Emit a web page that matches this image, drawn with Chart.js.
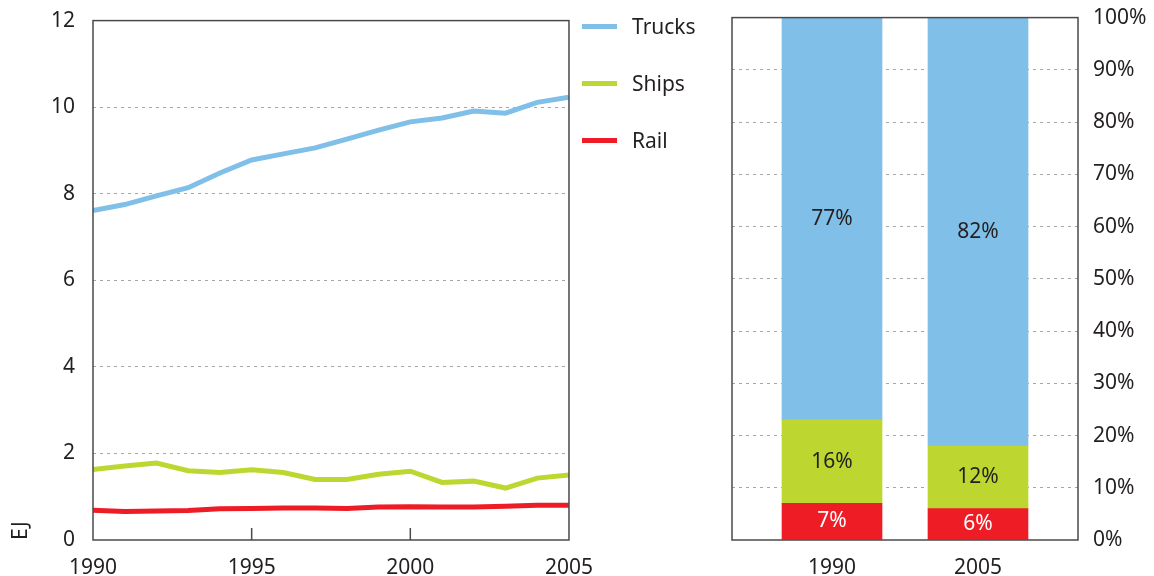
<!DOCTYPE html>
<html lang="en">
<head>
    <meta charset="UTF-8">
    <title>Freight transport energy use</title>
    <script src="https://cdn.jsdelivr.net/npm/chart.js@4.4.1/dist/chart.umd.min.js"></script>
    <style>
        body { margin: 0; background: #fff; font-family: "Noto Sans", sans-serif; overflow: hidden; }
        #wrap { position: relative; width: 1154px; height: 576px; overflow: hidden; }
        #lines { position: absolute; left: 0; top: -10px; }
        #shares { position: absolute; left: 700px; top: -10px; }
        #legend { position: absolute; left: 582px; top: 0; color: #231f20; font-size: 21px; }
        .item { position: absolute; left: 0; height: 30px; display: flex; align-items: center; white-space: nowrap; }
        .swatch { width: 35px; height: 5px; margin-right: 15px; }
    </style>
</head>
<body>
<div id="wrap">
    <canvas id="lines" width="600" height="586"></canvas>
    <div id="legend"></div>
    <canvas id="shares" width="454" height="586"></canvas>
</div>
<script>
    // energy use by mode, EJ
    const years = [1990, 1991, 1992, 1993, 1994, 1995, 1996, 1997, 1998, 1999, 2000, 2001, 2002, 2003, 2004, 2005];
    const trucks = [7.61, 7.75, 7.95, 8.14, 8.48, 8.78, 8.92, 9.06, 9.26, 9.47, 9.66, 9.75, 9.91, 9.86, 10.11, 10.23];
    const ships = [1.63, 1.71, 1.78, 1.60, 1.56, 1.62, 1.56, 1.40, 1.40, 1.52, 1.59, 1.33, 1.36, 1.20, 1.43, 1.50];
    const rail = [0.69, 0.66, 0.67, 0.68, 0.72, 0.73, 0.74, 0.74, 0.73, 0.76, 0.77, 0.76, 0.76, 0.78, 0.80, 0.80];
    const yearTicks = [1990, 1995, 2000, 2005];

    // share of each mode, %
    const shareYears = ['1990', '2005'];
    const shareRail = [7, 6];
    const shareShips = [16, 12];
    const shareTrucks = [77, 82];

    const BLUE = '#7fbfe8', GREEN = '#bed730', RED = '#ee1c25';
    const TEXT = '#231f20', FRAME = '#4a4a4a', GRID = '#a6a6a6';
    const font = { family: '"Noto Sans", sans-serif', size: 21 };

    Chart.defaults.font = font;
    Chart.defaults.color = TEXT;

    // box round the plot area plus short inward ticks on the x axis
    const frame = {
        id: 'frame',
        afterDatasetsDraw(chart, args, opts) {
            const { ctx, chartArea: a } = chart;
            ctx.save();
            ctx.strokeStyle = FRAME;
            ctx.lineWidth = 1.5;
            ctx.strokeRect(a.left, a.top, a.right - a.left, a.bottom - a.top);
            (opts.ticks || []).forEach(v => {
                const x = chart.scales.x.getPixelForValue(v);
                ctx.beginPath();
                ctx.moveTo(x, a.bottom);
                ctx.lineTo(x, a.bottom - 12);
                ctx.stroke();
            });
            ctx.restore();
        }
    };

    // value written in the middle of each bar segment
    const segLabels = {
        id: 'segLabels',
        afterDatasetsDraw(chart) {
            const ctx = chart.ctx;
            ctx.save();
            ctx.font = `${font.size}px ${font.family}`;
            ctx.textAlign = 'center';
            ctx.textBaseline = 'middle';
            chart.data.datasets.forEach((ds, i) => {
                chart.getDatasetMeta(i).data.forEach((bar, j) => {
                    ctx.fillStyle = ds.labelColor;
                    ctx.fillText(ds.data[j].y + '%', bar.x, (bar.y + bar.base) / 2);
                });
            });
            ctx.restore();
        }
    };

    const dashedGrid = (skip) => ({
        color: c => skip.includes(c.tick.value) ? 'transparent' : GRID,
        lineWidth: 1,
        drawTicks: false
    });

    const toPoints = vals => years.map((yr, i) => ({ x: yr, y: vals[i] }));

    const lineChart = new Chart(document.getElementById('lines'), {
        type: 'line',
        data: {
            datasets: [
                { label: 'Trucks', data: toPoints(trucks), borderColor: BLUE },
                { label: 'Ships', data: toPoints(ships), borderColor: GREEN },
                { label: 'Rail', data: toPoints(rail), borderColor: RED }
            ]
        },
        options: {
            responsive: false,
            animation: false,
            layout: { padding: { top: 0, right: 30 } },
            elements: {
                line: { borderWidth: 5, tension: 0, borderCapStyle: 'butt' },
                point: { radius: 0 }
            },
            plugins: { legend: { display: false }, tooltip: { enabled: false }, frame: { ticks: [1995, 2000] } },
            scales: {
                x: {
                    type: 'linear',
                    min: 1990,
                    max: 2005,
                    afterBuildTicks: s => { s.ticks = yearTicks.map(v => ({ value: v })); },
                    ticks: { callback: v => String(v), padding: 7, maxRotation: 0 },
                    grid: { display: false },
                    border: { display: false },
                    afterFit: s => { s.height = 36; }
                },
                y: {
                    min: 0,
                    max: 12,
                    ticks: { stepSize: 2, padding: 18 },
                    grid: dashedGrid([0, 12]),
                    border: { display: false, dash: [3, 4] },
                    title: { display: true, text: 'EJ', align: 'start', padding: { top: 8, bottom: 0 } },
                    afterFit: s => { s.width = 93; }
                }
            }
        },
        plugins: [frame]
    });

    // legend built from the line datasets
    const legend = document.getElementById('legend');
    lineChart.data.datasets.forEach((ds, i) => {
        const row = document.createElement('div');
        row.className = 'item';
        row.style.top = (11 + i * 57) + 'px';
        const sw = document.createElement('span');
        sw.className = 'swatch';
        sw.style.background = ds.borderColor;
        row.appendChild(sw);
        row.appendChild(document.createTextNode(ds.label));
        legend.appendChild(row);
    });

    const toBars = vals => vals.map((v, i) => ({ x: i, y: v }));

    new Chart(document.getElementById('shares'), {
        type: 'bar',
        data: {
            datasets: [
                { label: 'Rail', data: toBars(shareRail), backgroundColor: RED, labelColor: '#ffffff', stack: 'share' },
                { label: 'Ships', data: toBars(shareShips), backgroundColor: GREEN, labelColor: TEXT, stack: 'share' },
                { label: 'Trucks', data: toBars(shareTrucks), backgroundColor: BLUE, labelColor: TEXT, stack: 'share' }
            ]
        },
        options: {
            responsive: false,
            animation: false,
            layout: { padding: { top: 0, left: 32 } },
            datasets: { bar: { barThickness: 100 } },
            plugins: { legend: { display: false }, tooltip: { enabled: false } },
            scales: {
                x: {
                    type: 'linear',
                    offset: false,
                    bounds: 'data',
                    min: -0.685,
                    max: 1.685,
                    afterBuildTicks: s => { s.ticks = shareYears.map((_, i) => ({ value: i })); },
                    ticks: { callback: v => shareYears[v], padding: 7, maxRotation: 0 },
                    grid: { display: false, offset: false },
                    border: { display: false },
                    afterFit: s => { s.height = 36; }
                },
                y: {
                    position: 'right',
                    stacked: true,
                    min: 0,
                    max: 100,
                    ticks: { stepSize: 10, padding: 15, callback: v => v + '%' },
                    grid: dashedGrid([0, 100]),
                    border: { display: false, dash: [3, 4] },
                    afterFit: s => { s.width = 76; }
                }
            }
        },
        plugins: [frame, segLabels]
    });
</script>
</body>
</html>
